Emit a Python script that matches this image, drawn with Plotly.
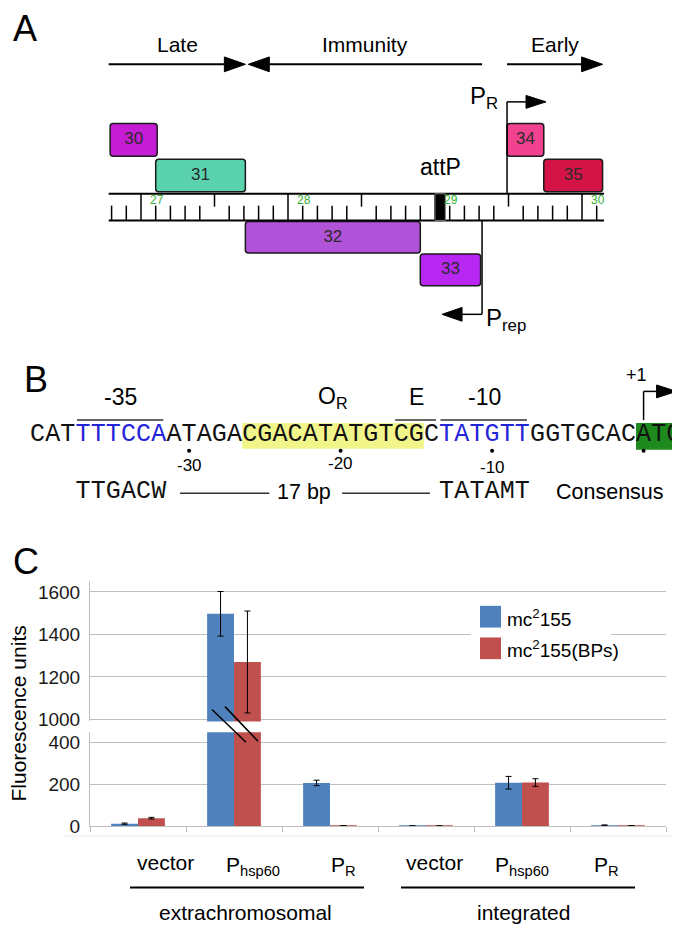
import numpy as np
import plotly.graph_objects as go

W, H = 680, 928
SANS = "Arial, Liberation Sans, sans-serif"
MONO = "Courier New, Liberation Mono, monospace"

# ---------------- panel A : genome map (kb) ----------------
gene_names = ["30", "31", "32", "33", "34", "35"]
gene_start = [26.79, 27.10, 27.71, 28.90, 29.49, 29.74]
gene_end = [27.11, 27.71, 28.90, 29.31, 29.74, 30.14]
gene_track = [2, 1, -1, -2, 2, 1]
gene_colors = ["#C61CD4", "#5AD2AE", "#B153D9", "#B828F2", "#F0428E", "#D41447"]

region_names = ["Late", "Immunity", "Early"]
region_from = [26.78, 29.32, 29.49]
region_to = [27.71, 27.73, 30.14]

ruler_start, ruler_end = 26.78, 30.15
ruler_labels = [27, 28, 29, 30]
attp_kb = [29.00, 29.07]
pr_kb = 29.49
prep_kb = 29.32

# ---------------- panel B : promoter sequence ----------------
seq = "CATTTTCCAATAGACGACATATGTCGCTATGTTGGTGCACATG"
blue_boxes = [(3, 8), (27, 32)]
operator_box = (14, 25)
start_codon = (40, 42)
motif_names = ["-35", "E", "-10"]
motif_from = [3, 24, 27]
motif_to = [8, 26, 32]
pos_index = [10, 20, 30, 40]
pos_labels = ["-30", "-20", "-10", ""]
consensus_35 = "TTGACW"
consensus_10 = "TATAMT"
spacer_label = "17 bp"

# ---------------- panel C : fluorescence ----------------
promoters = ["vector", "P<sub>hsp60</sub>", "P<sub>R</sub>",
             "vector", "P<sub>hsp60</sub>", "P<sub>R</sub>"]
contexts = ["extrachromosomal", "integrated"]
mc155 = [12, 1497, 206, 1, 207, 4]
mc155_err = [3, 105, 13, 1, 30, 2]
mc155_bps = [38, 1270, 2, 1, 208, 2]
mc155_bps_err = [4, 240, 1, 1, 18, 1]
series_names = ["mc<sup>2</sup>155", "mc<sup>2</sup>155(BPs)"]
series_colors = ["#4F81BD", "#C0504D"]

# pixel <-> data mappings for the drawn panels
KB_PX = 147.0          # px per kb
KB_X27 = 133.0         # px of 27 kb
kb_range = [27 - KB_X27 / KB_PX, 27 + (W - KB_X27) / KB_PX]
CH = 15.15             # px per base
CH_X0 = 22.0
idx_range = [-0.5 - CH_X0 / CH, (W - CH_X0) / CH - 0.5]

track_y = {2: (117, 150), 1: (153, 186), -1: (216, 248), -2: (249, 281)}

fig = go.Figure()
shapes = []
annos = []


def line(x0, y0, x1, y1, xref="x", width=2, color="black"):
    shapes.append(dict(type="line", xref=xref, yref="y", x0=x0, y0=y0, x1=x1, y1=y1,
                       line=dict(color=color, width=width)))


def arrow(x_tail, x_tip, y, head, half, xref, width=2):
    s = 1 if x_tip > x_tail else -1
    line(x_tail, y, x_tip - s * head, y, xref, width)
    b = x_tip - s * head
    shapes.append(dict(type="path", xref=xref, yref="y",
                       path=f"M {x_tip},{y} L {b},{y - half} L {b},{y + half} Z",
                       fillcolor="black", line=dict(color="black", width=1)))


def text(x, y, t, size, xref="x", xanchor="center", yanchor="middle", color="black",
         family=SANS, angle=0):
    annos.append(dict(x=x, y=y, xref=xref, yref="y", text=t, showarrow=False,
                      xanchor=xanchor, yanchor=yanchor, textangle=angle,
                      font=dict(size=size, color=color, family=family)))


# ---- panel A
text(3, 21, "A", 36, xanchor="left")
for name, a, b in zip(region_names, region_from, region_to):
    arrow(a, b, 57, 21 / KB_PX, 7.5, "x4")
    text((a + b) / 2, 37, name, 21, xref="x4")

r = 3 / KB_PX
for name, a, b, tr, c in zip(gene_names, gene_start, gene_end, gene_track, gene_colors):
    y0, y1 = track_y[tr]
    p = (f"M {a + r},{y0} L {b - r},{y0} Q {b},{y0} {b},{y0 + 3} L {b},{y1 - 3} "
         f"Q {b},{y1} {b - r},{y1} L {a + r},{y1} Q {a},{y1} {a},{y1 - 3} "
         f"L {a},{y0 + 3} Q {a},{y0} {a + r},{y0} Z")
    shapes.append(dict(type="path", xref="x4", yref="y", path=p, fillcolor=c,
                       line=dict(color="#1a1a1a", width=1.5), layer="below"))

# ruler
line(ruler_start, 188, ruler_end, 188, "x4")
line(ruler_start, 215, ruler_end, 215, "x4")
for k in np.arange(268, 302):
    kb = k / 10
    if k % 10 == 0:
        line(kb, 188, kb, 215, "x4", 1.5)
    elif k % 5 == 0:
        line(kb, 188, kb, 201, "x4", 1.5)
    else:
        line(kb, 200, kb, 215, "x4", 1.5)
for v in ruler_labels:
    text(v + 0.05, 194, str(v), 12, xref="x4", xanchor="left", color="#34B234")
shapes.append(dict(type="rect", xref="x4", yref="y", x0=attp_kb[0], x1=attp_kb[1],
                   y0=188, y1=215, fillcolor="black", line=dict(color="#777", width=1)))
text(sum(attp_kb) / 2, 161, "attP", 23, xref="x4")

# promoters
line(pr_kb, 188, pr_kb, 95, "x4", 1.5)
arrow(pr_kb, pr_kb + 39 / KB_PX, 95, 20 / KB_PX, 6.5, "x4", 1.5)
text(pr_kb - 0.045, 91, "P<sub>R</sub>", 24, xref="x4", xanchor="right")
line(prep_kb, 215, prep_kb, 310, "x4", 1.5)
arrow(prep_kb, prep_kb - 40 / KB_PX, 310, 20 / KB_PX, 7, "x4", 1.5)
text(prep_kb + 0.01, 315, "P<sub>rep</sub>", 24, xref="x4", xanchor="left")

# ---- panel B
text(14, 376, "B", 36, xanchor="left")
shapes.append(dict(type="rect", xref="x5", yref="y", x0=operator_box[0] - 0.5,
                   x1=operator_box[1] + 0.5, y0=420, y1=446, fillcolor="#F2F68A",
                   line=dict(width=0), layer="below"))
shapes.append(dict(type="rect", xref="x5", yref="y", x0=start_codon[0] - 0.5,
                   x1=idx_range[1], y0=420, y1=447, fillcolor="#1E8A1E",
                   line=dict(width=0), layer="below"))
seq_colors = ["#111111"] * len(seq)
for a, b in blue_boxes:
    for i in range(a, b + 1):
        seq_colors[i] = "#2424D8"
for name, a, b in zip(motif_names, motif_from, motif_to):
    line(a - 0.4, 417, b + 0.3, 417, "x5", 1.5, "#333")
    text((a + b) / 2, 394, name, 23, xref="x5")
text(sum(operator_box) / 2, 394, "O<sub>R</sub>", 23, xref="x5")
# +1 bent arrow
line(start_codon[0], 417, start_codon[0], 388, "x5", 1.5)
arrow(start_codon[0], start_codon[0] + 33 / CH, 388, 20 / CH, 6.5, "x5", 1.5)
text(start_codon[0] - 0.5, 371, "+1", 18, xref="x5")
for i, lab, yy in zip(pos_index, pos_labels, [463, 461, 465, 463]):
    if lab:
        text(i, yy, lab, 17, xref="x5")

# consensus row
line(9.4, 491, 15.3, 491, "x5", 1.5, "#333")
line(20.1, 491, 25.9, 491, "x5", 1.5, "#333")
text(17.6, 490, spacer_label, 21.5, xref="x5")
text(37.8, 490, "Consensus", 21.5, xref="x5")

# ---- panel C
text(3, 560, "C", 36, xanchor="left")
text(11, 714, "Fluorescence units", 21, angle=-90)
label_x = [157, 245, 335, 426, 514, 598]
for lx, lab in zip(label_x, promoters):
    text(lx, 868 if "sub" in lab else 865, lab, 21)
line(122, 890, 356, 890)
line(393, 890, 627, 890)
text(237, 915, contexts[0], 21)
text(515, 915, contexts[1], 21)
# axis break marks
line(204, 710, 238, 743, width=1.5)
line(217, 707, 250, 742, width=1.5)
# faint chart frames
line(667, 578, 667, 722, width=1, color="#ECECEC")
line(667, 733, 667, 838, width=1, color="#ECECEC")
line(55, 838, 667, 838, width=1, color="#ECECEC")
# legend
shapes.append(dict(type="rect", xref="x", yref="y", x0=463, x1=603, y0=598, y1=668,
                   fillcolor="white", line=dict(width=0)))
for k, (nm, c) in enumerate(zip(series_names, series_colors)):
    y0 = 605 + 32 * k
    shapes.append(dict(type="rect", xref="x", yref="y", x0=472, x1=493, y0=y0, y1=y0 + 22,
                       fillcolor=c, line=dict(width=0)))
    text(497, y0 + 12, nm, 19, xanchor="left")

# ---------------- traces ----------------
mid = [(a + b) / 2 for a, b in zip(gene_start, gene_end)]
fig.add_trace(go.Scatter(x=mid, y=[sum(track_y[t]) / 2 for t in gene_track], text=gene_names,
                         mode="text", textfont=dict(size=17, color="#2a2a2a", family=SANS),
                         xaxis="x4", yaxis="y", hoverinfo="skip"))
fig.add_trace(go.Scatter(x=list(range(len(seq))), y=[432] * len(seq), text=list(seq),
                         mode="text", textfont=dict(size=25, color=seq_colors, family=MONO),
                         xaxis="x5", yaxis="y", hoverinfo="skip", cliponaxis=False))
fig.add_trace(go.Scatter(x=pos_index, y=[448] * len(pos_index), mode="markers",
                         marker=dict(size=4, color="black"), xaxis="x5", yaxis="y",
                         hoverinfo="skip"))
cons_x = list(range(motif_from[0], motif_from[0] + 6)) + list(range(motif_from[2], motif_from[2] + 6))
fig.add_trace(go.Scatter(x=cons_x, y=[490] * 12, text=list(consensus_35 + consensus_10),
                         mode="text", textfont=dict(size=25, color="#111", family=MONO),
                         xaxis="x5", yaxis="y", hoverinfo="skip"))

xs = list(range(6))
for xa, ya in [("x2", "y2"), ("x3", "y3")]:
    for vals, err, c in [(mc155, mc155_err, series_colors[0]),
                         (mc155_bps, mc155_bps_err, series_colors[1])]:
        fig.add_trace(go.Bar(x=xs, y=vals, marker=dict(color=c, line=dict(width=0)),
                             error_y=dict(type="data", array=err, color="black",
                                          thickness=1, width=3),
                             xaxis=xa, yaxis=ya, hoverinfo="skip"))

cx = [82 / W, 658 / W]
fig.update_layout(
    width=W, height=H, margin=dict(l=0, r=0, t=0, b=0, pad=0),
    paper_bgcolor="white", plot_bgcolor="rgba(0,0,0,0)",
    showlegend=False, hovermode=False,
    barmode="group", bargap=0.44, bargroupgap=0,
    font=dict(family=SANS, color="black"),
    xaxis=dict(range=[0, W], domain=[0, 1], visible=False),
    yaxis=dict(range=[H, 0], domain=[0, 1], visible=False),
    xaxis4=dict(range=kb_range, overlaying="x", anchor="y", visible=False),
    xaxis5=dict(range=idx_range, overlaying="x", anchor="y", visible=False),
    xaxis2=dict(domain=cx, anchor="y2", range=[-0.5, 5.5], showticklabels=False,
                showgrid=False, zeroline=False),
    yaxis2=dict(domain=[1 - 722 / H, 1 - 580 / H], anchor="x2", range=[990, 1651],
                tickvals=[1000, 1200, 1400, 1600], gridcolor="#BFBFBF", showline=True,
                linecolor="#BFBFBF", zeroline=False, ticklabelstandoff=5,
                tickfont=dict(size=19, color="#1a1a1a")),
    xaxis3=dict(domain=cx, anchor="y3", range=[-0.5, 5.5], tickvals=[k - 0.5 for k in range(7)],
                ticks="outside", ticklen=5, tickcolor="#BFBFBF", showticklabels=False,
                showline=True, linecolor="#BFBFBF", showgrid=False, zeroline=False),
    yaxis3=dict(domain=[1 - 828 / H, 1 - 733 / H], anchor="x3", range=[0, 447],
                tickvals=[0, 200, 400], gridcolor="#BFBFBF", showline=True,
                linecolor="#BFBFBF", zeroline=False, ticklabelstandoff=5,
                tickfont=dict(size=19, color="#1a1a1a")),
    shapes=shapes, annotations=annos,
)

fig.write_html("out.html")
